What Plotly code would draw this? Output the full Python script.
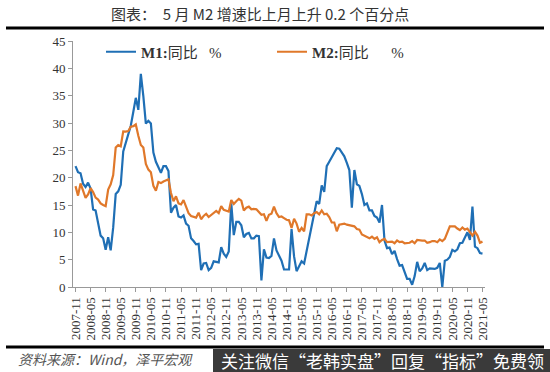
import plotly.graph_objects as go

# ---------------- data ----------------
start_year, start_month = 2007, 11
m1 = [22.1, 21.0,
      20.8, 18.9, 18.3, 19.1, 18.0, 14.2, 14.0, 11.6, 9.4, 8.9, 6.8, 9.1,
      6.7, 10.9, 17.0, 17.5, 18.7, 24.8, 26.4, 27.7, 29.5, 32.0, 34.6, 32.4,
      39.0, 34.9, 29.9, 30.4, 29.9, 24.6, 22.9, 21.9, 20.9, 22.1, 22.1, 21.2,
      13.6, 14.5, 15.0, 12.9, 12.7, 13.1, 11.6, 11.2, 8.9, 8.4, 7.8, 7.9,
      3.1, 4.3, 4.4, 3.1, 3.5, 4.7, 4.6, 4.5, 7.3, 6.1, 5.5, 6.5,
      15.3, 9.5, 11.9, 11.9, 11.3, 9.1, 9.7, 9.9, 8.9, 8.9, 9.4, 9.3,
      1.2, 6.9, 5.4, 5.3, 5.7, 8.9, 6.7, 5.7, 4.8, 3.2, 3.2, 3.2,
      10.6, 5.6, 2.9, 3.7, 4.7, 4.3, 6.6, 9.3, 11.4, 14.0, 15.7, 15.2,
      18.6, 17.4, 22.1, 22.9, 23.7, 24.6, 25.4, 25.3, 24.7, 23.9, 22.7, 21.4,
      14.5, 21.4, 18.8, 18.5, 17.0, 15.0, 15.3, 14.0, 14.0, 13.0, 12.7, 11.8,
      15.0, 8.5, 7.1, 7.2, 6.0, 6.6, 5.1, 3.9, 4.0, 2.7, 1.5, 1.5,
      0.4, 2.0, 4.6, 2.9, 3.4, 4.4, 3.1, 3.4, 3.4, 3.3, 3.5, 4.4,
      0.0, 4.8, 5.0, 5.5, 6.8, 6.5, 6.9, 8.0, 8.1, 9.1, 10.0, 8.6,
      14.7, 7.4, 7.1, 6.2, 6.1]
m2 = [18.45, 16.72,
      18.94, 17.48, 16.29, 16.94, 18.07, 17.37, 16.35, 16.0, 15.29, 15.0, 14.8, 17.82,
      18.79, 20.48, 25.51, 25.95, 25.74, 28.46, 28.42, 28.53, 29.31, 29.42, 29.74, 27.68,
      25.98, 25.52, 22.5, 21.48, 21.0, 18.5, 17.6, 19.2, 19.0, 19.3, 19.5, 19.7,
      17.2, 15.7, 16.6, 15.3, 15.1, 15.9, 14.7, 13.5, 13.0, 12.9, 12.7, 13.6,
      12.4, 13.0, 13.4, 12.8, 13.2, 13.6, 13.9, 13.5, 14.8, 14.1, 13.9, 13.8,
      15.9, 15.2, 15.7, 16.1, 15.8, 14.0, 14.5, 14.7, 14.2, 14.3, 14.2, 13.6,
      13.2, 13.3, 12.1, 13.2, 13.4, 14.7, 13.5, 12.8, 12.9, 12.6, 12.3, 12.2,
      10.8, 12.5, 11.6, 10.1, 10.8, 10.2, 13.3, 13.3, 13.1, 13.5, 13.7, 13.3,
      14.0, 13.3, 13.4, 12.8, 11.8, 11.8, 10.2, 11.4, 11.5, 11.6, 11.4, 11.3,
      11.3, 11.1, 10.6, 10.5, 9.6, 9.4, 9.2, 8.9, 9.2, 8.8, 9.1, 8.2,
      8.6, 8.8, 8.2, 8.3, 8.3, 8.0, 8.5, 8.2, 8.3, 8.0, 8.0, 8.1,
      8.4, 8.0, 8.6, 8.5, 8.5, 8.5, 8.1, 8.2, 8.4, 8.4, 8.2, 8.7,
      8.4, 8.8, 10.1, 11.1, 11.1, 11.1, 10.7, 10.4, 10.9, 10.5, 10.7, 10.1,
      9.4, 10.1, 9.4, 8.1, 8.3]

months = []
y, m = start_year, start_month
for _ in range(len(m1)):
    months.append(f"{y}-{m:02d}")
    m += 1
    if m > 12:
        m = 1
        y += 1
idx = list(range(len(months)))
tick_idx = idx[::6]
tick_labels = [months[i] for i in tick_idx]

series_names = ["<b>M1:</b>同比\u00a0\u00a0\u00a0%",
                "<b>M2:</b>同比\u00a0\u00a0\u00a0\u00a0\u00a0\u00a0%"]
title_text = "图表：\u00a0\u00a05 月 M2 增速比上月上升 0.2 个百分点"
source_text = "资料来源：Wind，泽平宏观"
banner_text = "关注微信“老韩实盘”回复“指标”免费领"

# ---------------- layout helpers ----------------
W, H = 550, 372
L, R, T, B = 73, 485, 41, 287


def px(x):
    return (x - L) / (R - L)


def py(y):
    return (B - y) / (B - T)


SERIF = "Liberation Serif, Times New Roman, Noto Sans CJK SC, serif"
CJK = "Noto Sans CJK SC, sans-serif"

fig = go.Figure()
fig.add_trace(go.Scatter(x=idx, y=m1, mode="lines", name=series_names[0],
                         line=dict(color="#1F6FB5", width=2.2)))
fig.add_trace(go.Scatter(x=idx, y=m2, mode="lines", name=series_names[1],
                         line=dict(color="#E0782A", width=2.2)))

fig.update_layout(
    width=W, height=H,
    margin=dict(l=L, r=W - R, t=T, b=H - B),
    paper_bgcolor="white", plot_bgcolor="white",
    showlegend=True,
    legend=dict(orientation="h", x=px(101), y=py(52), xanchor="left", yanchor="middle",
                font=dict(family=SERIF, size=15, color="#333"),
                bgcolor="rgba(0,0,0,0)", entrywidth=126, itemwidth=30),
    xaxis=dict(range=[-1, len(idx)], tickmode="array", tickvals=tick_idx, ticktext=tick_labels,
               tickangle=-90, showgrid=False, zeroline=False, showline=True,
               linecolor="#999", linewidth=1, ticks="outside", ticklen=4, tickcolor="#999",
               tickfont=dict(family=SERIF, size=13, color="#333")),
    yaxis=dict(range=[0, 45], dtick=5, showgrid=False, zeroline=False, showline=True,
               linecolor="#999", linewidth=1, ticks="outside", ticklen=4, tickcolor="#999",
               tickfont=dict(family=SERIF, size=13, color="#333")),
)

# top rule and bottom rule
fig.add_shape(type="line", xref="paper", yref="paper", x0=px(6), x1=px(544), y0=py(28), y1=py(28),
              line=dict(color="black", width=3))
fig.add_shape(type="line", xref="paper", yref="paper", x0=px(6), x1=px(544), y0=py(347), y1=py(347),
              line=dict(color="black", width=3))
# banner background
fig.add_shape(type="rect", xref="paper", yref="paper", x0=px(213), x1=px(552), y0=py(349), y1=py(374),
              line=dict(width=0), fillcolor="#3A3A3A")

fig.add_annotation(text=title_text, xref="paper", yref="paper", x=px(260), y=py(13),
                   xanchor="center", yanchor="middle", showarrow=False,
                   font=dict(family=CJK, size=15, color="#333"))
fig.add_annotation(text="<i>" + source_text + "</i>", xref="paper", yref="paper", x=px(16), y=py(359),
                   xanchor="left", yanchor="middle", showarrow=False,
                   font=dict(family=CJK, size=14, color="#555"))
fig.add_annotation(text=banner_text, xref="paper", yref="paper", x=px(546), y=py(360),
                   xanchor="right", yanchor="middle", showarrow=False,
                   font=dict(family=CJK, size=17, color="white"))

fig.write_html("out.html", config={"displayModeBar": False},
               post_script="document.body.style.margin='0';document.body.style.overflow='hidden';")
